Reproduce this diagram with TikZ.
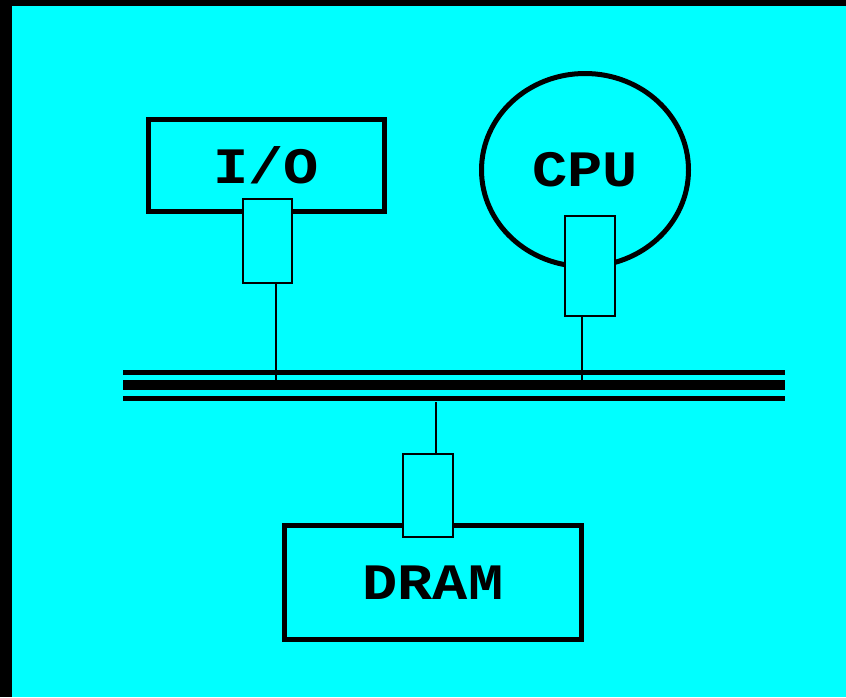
\documentclass[tikz,border=0pt]{standalone}
\usepackage{fontspec}
\usepackage{graphicx}
\newfontfamily\unitfont{Liberation Mono}
\usetikzlibrary{shapes.geometric}
\definecolor{bgcyan}{RGB}{0,255,255}
\newcommand{\unitlabel}[1]{\scalebox{1}[0.87]{#1}}

\tikzset{
  unit/.style={draw, line width=3.75pt, font=\unitfont\bfseries\fontsize{44}{48}\selectfont, inner sep=0pt},
  port/.style={draw, line width=1.5pt, fill=bgcyan, inner sep=0pt},
  tap/.style={line width=1.5pt}
}

\begin{document}
\begin{tikzpicture}[x=0.75pt,y=-0.75pt]
    % background and frame
    \fill[black] (0,0) rectangle (846,697);
    \fill[bgcyan] (12,6) rectangle (846,697);
    % units
    \node[unit, rectangle, minimum width=177pt, minimum height=69pt] (io) at (266,165.5) {\unitlabel{I/O}};
    \node[unit, ellipse, minimum width=155.25pt, minimum height=144.75pt] (cpu) at (585,170) {\unitlabel{CPU}};
    \node[unit, rectangle, minimum width=222.75pt, minimum height=85.5pt] (dram) at (433,582.5) {\unitlabel{DRAM}};
    % bus interfaces
    \node[port, minimum width=36.75pt, minimum height=63pt] (ioport) at (267.5,241) {};
    \node[port, minimum width=37.5pt, minimum height=75pt] (cpuport) at (590,266) {};
    \node[port, minimum width=37.5pt, minimum height=62.25pt] (dramport) at (428,495.5) {};
    % bus
    \coordinate (busw) at (123,385);
    \coordinate (buse) at (785,385);
    \draw[line width=3.75pt] ([yshift=9.375pt]busw) -- ([yshift=9.375pt]buse);
    \draw[line width=7.5pt] (busw) -- (buse);
    \draw[line width=3.75pt] ([yshift=-9.75pt]busw) -- ([yshift=-9.75pt]buse);
    % taps
    \coordinate (iotap) at (276,380);
    \coordinate (cputap) at (581.5,380);
    \coordinate (dramtap) at (436,402);
    \draw[tap] (ioport.south -| iotap) -- (iotap);
    \draw[tap] (cpuport.south -| cputap) -- (cputap);
    \draw[tap] (dramtap) -- (dramtap |- dramport.north);
\end{tikzpicture}
\end{document}
